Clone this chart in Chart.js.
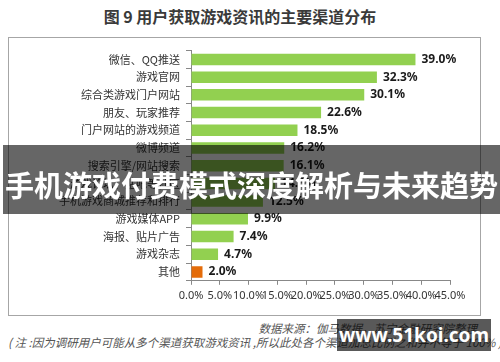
<!DOCTYPE html>
<html>
<head>
<meta charset="utf-8">
<script src="https://cdn.jsdelivr.net/npm/chart.js@4"></script>
<style>
  body { margin: 0; width: 500px; height: 362px; background: #fff; position: relative; overflow: hidden;
         font-family: 'Noto Sans CJK SC', 'Noto Sans', sans-serif; }
  #title { position: absolute; left: 0; width: 480px; top: 4px; text-align: center;
           font-size: 16px; font-weight: bold; color: #3a3a3a; }
  #box { position: absolute; left: 8px; top: 37px; width: 471px; height: 277px; border: 1px solid #a6a6a6; }
  #box canvas { position: absolute; left: 0; top: 0; }
  #source { position: absolute; right: 23px; top: 320px; font-size: 11.5px; font-style: italic; color: #555; }
  #note { position: absolute; left: 8px; top: 334px; font-size: 11.5px; font-style: italic; color: #555; white-space: nowrap; }
  #band { position: absolute; left: 3px; right: 0; top: 145px; height: 69px; background: rgba(0,0,0,0.6);
          color: #fff; font-weight: bold; font-size: 29px; text-align: center; line-height: 78px; white-space: nowrap; }
  #mark { position: absolute; left: 337px; width: 154px; top: 319px; height: 32px; background: rgba(0,0,0,0.65);
          color: #fff; font-family: 'Noto Sans', sans-serif; font-weight: bold; font-size: 19px; text-align: center; line-height: 32px; }
</style>
</head>
<body>
<div id="title">图 9 用户获取游戏资讯的主要渠道分布</div>
<div id="box"><canvas id="chart" width="471" height="277"></canvas></div>
<div id="source">数据来源：伽马数据，苏宁金融研究院整理</div>
<div id="note">( 注 :因为调研用户可能从多个渠道获取游戏资讯 ,所以此处各个渠道加总比例之和并不等于 100% )</div>
<div id="band">手机游戏付费模式深度解析与未来趋势</div>
<div id="mark">www.51koi.com</div>
<script>
// 渠道和比例（%）
const channels = ['微信、QQ推送', '游戏官网', '综合类游戏门户网站', '朋友、玩家推荐', '门户网站的游戏频道',
  '微博频道', '搜索引擎/网站搜索', '游戏论坛、贴吧等社区', '手机游戏商城推荐和排行', '游戏媒体APP',
  '海报、贴片广告', '游戏杂志', '其他'];
const shares = [39.0, 32.3, 30.1, 22.6, 18.5, 16.2, 16.1, 14.6, 12.5, 9.9, 7.4, 4.7, 2.0];
const xTicks = [0, 5, 10, 15, 20, 25, 30, 35, 40, 45];

const barColors = channels.map(c => c === '其他' ? '#e46c0a' : '#92d050');

// 在柱子末端画数值
const valueLabels = {
  id: 'valueLabels',
  afterDatasetsDraw(chart) {
    const ctx = chart.ctx;
    ctx.save();
    ctx.font = 'bold 12px "Noto Sans", sans-serif';
    ctx.fillStyle = '#1a1a1a';
    ctx.textBaseline = 'middle';
    chart.getDatasetMeta(0).data.forEach((bar, i) => {
      ctx.fillText(shares[i].toFixed(1) + '%', bar.x + 6, bar.y);
    });
    ctx.restore();
  }
};

new Chart(document.getElementById('chart'), {
  type: 'bar',
  data: {
    labels: channels,
    datasets: [{
      data: shares,
      backgroundColor: barColors,
      categoryPercentage: 1,
      barPercentage: 0.65
    }]
  },
  options: {
    indexAxis: 'y',
    responsive: false,
    animation: false,
    layout: { padding: { top: 12, right: 30, bottom: 9, left: 0 } },
    plugins: { legend: { display: false }, tooltip: { enabled: false } },
    scales: {
      x: {
        min: 0, max: 45,
        afterBuildTicks: s => { s.ticks = xTicks.map(v => ({ value: v })); },
        grid: { drawOnChartArea: false, tickLength: 4, color: '#888' },
        border: { color: '#888' },
        ticks: {
          autoSkip: false, maxRotation: 0, padding: 4, color: '#333',
          font: { size: 11, family: '"Noto Sans", sans-serif' },
          callback: v => v.toFixed(1) + '%'
        }
      },
      y: {
        afterFit: s => { s.width = 182; },
        grid: { drawOnChartArea: false, tickLength: 5, color: '#888', offset: true },
        border: { color: '#888' },
        ticks: { padding: 6, color: '#333', font: { size: 11, family: '"Noto Sans CJK SC", sans-serif' } }
      }
    }
  },
  plugins: [valueLabels]
});
</script>
</body>
</html>
